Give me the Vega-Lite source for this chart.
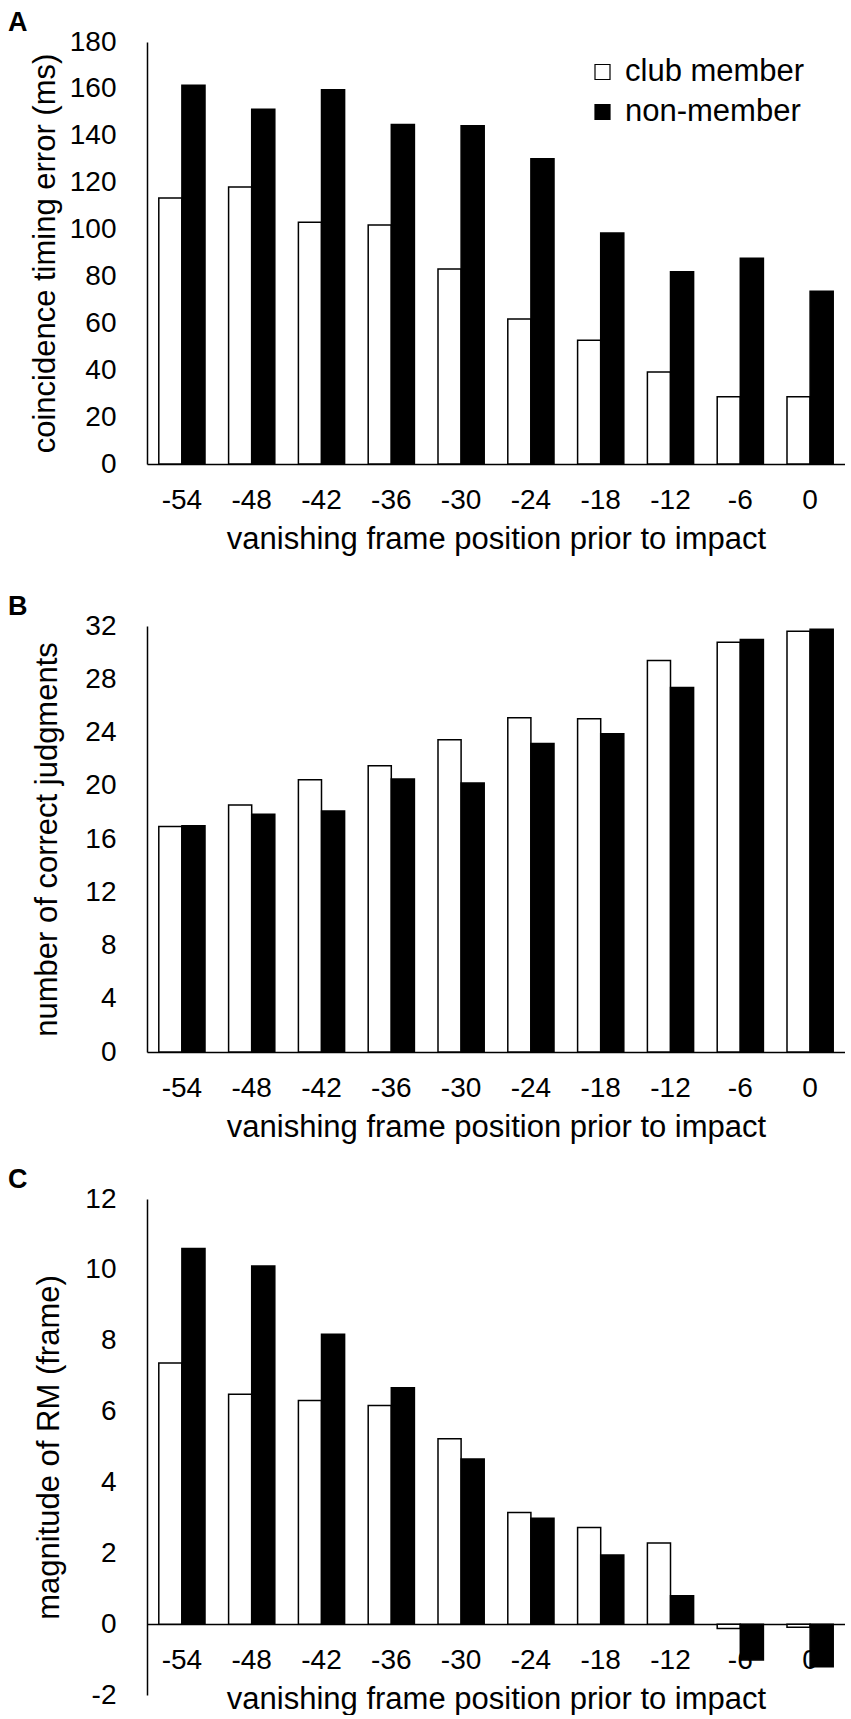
{
  "$schema": "https://vega.github.io/schema/vega-lite/v6.json",
  "background": "white",
  "padding": {"left": 8, "top": 9, "right": 0, "bottom": 0},
  "config": {
    "font": "Liberation Sans",
    "view": {"stroke": null},
    "axis": {
      "domainColor": "#000",
      "domainWidth": 1.5,
      "grid": false,
      "ticks": false,
      "labelColor": "#000",
      "titleColor": "#000",
      "labelFontSize": 28,
      "titleFontSize": 31,
      "titleFontWeight": "normal"
    },
    "legend": {
      "orient": "none",
      "title": null,
      "symbolType": "square",
      "symbolSize": 225,
      "symbolStrokeColor": "#000",
      "symbolStrokeWidth": 1.2,
      "symbolOpacity": 1,
      "labelFontSize": 31,
      "labelColor": "#000",
      "labelLimit": 400,
      "labelOffset": 7,
      "rowPadding": 8,
      "padding": 0
    },
    "title": {"fontSize": 27, "fontWeight": "bold", "color": "#000", "anchor": "start", "frame": "group"}
  },
  "datasets": {
    "a": [
      {"frame": -54, "group": "club member", "value": 113.5},
      {"frame": -48, "group": "club member", "value": 118.1},
      {"frame": -42, "group": "club member", "value": 103.1},
      {"frame": -36, "group": "club member", "value": 101.9},
      {"frame": -30, "group": "club member", "value": 83.2},
      {"frame": -24, "group": "club member", "value": 61.9},
      {"frame": -18, "group": "club member", "value": 52.8},
      {"frame": -12, "group": "club member", "value": 39.2},
      {"frame": -6, "group": "club member", "value": 28.7},
      {"frame": 0, "group": "club member", "value": 28.7},
      {"frame": -54, "group": "non-member", "value": 161.5},
      {"frame": -48, "group": "non-member", "value": 151.3},
      {"frame": -42, "group": "non-member", "value": 159.6},
      {"frame": -36, "group": "non-member", "value": 144.8},
      {"frame": -30, "group": "non-member", "value": 144.3},
      {"frame": -24, "group": "non-member", "value": 130.2},
      {"frame": -18, "group": "non-member", "value": 98.5},
      {"frame": -12, "group": "non-member", "value": 82.0},
      {"frame": -6, "group": "non-member", "value": 87.8},
      {"frame": 0, "group": "non-member", "value": 73.7}
    ],
    "b": [
      {"frame": -54, "group": "club member", "value": 16.93},
      {"frame": -48, "group": "club member", "value": 18.55},
      {"frame": -42, "group": "club member", "value": 20.46},
      {"frame": -36, "group": "club member", "value": 21.51},
      {"frame": -30, "group": "club member", "value": 23.45},
      {"frame": -24, "group": "club member", "value": 25.11},
      {"frame": -18, "group": "club member", "value": 25.03},
      {"frame": -12, "group": "club member", "value": 29.41},
      {"frame": -6, "group": "club member", "value": 30.78},
      {"frame": 0, "group": "club member", "value": 31.6},
      {"frame": -54, "group": "non-member", "value": 17.0},
      {"frame": -48, "group": "non-member", "value": 17.86},
      {"frame": -42, "group": "non-member", "value": 18.1},
      {"frame": -36, "group": "non-member", "value": 20.5},
      {"frame": -30, "group": "non-member", "value": 20.21},
      {"frame": -24, "group": "non-member", "value": 23.17},
      {"frame": -18, "group": "non-member", "value": 23.9},
      {"frame": -12, "group": "non-member", "value": 27.38},
      {"frame": -6, "group": "non-member", "value": 30.99},
      {"frame": 0, "group": "non-member", "value": 31.76}
    ],
    "c": [
      {"frame": -54, "group": "club member", "value": 7.37},
      {"frame": -48, "group": "club member", "value": 6.49},
      {"frame": -42, "group": "club member", "value": 6.31},
      {"frame": -36, "group": "club member", "value": 6.17},
      {"frame": -30, "group": "club member", "value": 5.23},
      {"frame": -24, "group": "club member", "value": 3.15},
      {"frame": -18, "group": "club member", "value": 2.73},
      {"frame": -12, "group": "club member", "value": 2.29},
      {"frame": -6, "group": "club member", "value": -0.12},
      {"frame": 0, "group": "club member", "value": -0.09},
      {"frame": -54, "group": "non-member", "value": 10.6},
      {"frame": -48, "group": "non-member", "value": 10.11},
      {"frame": -42, "group": "non-member", "value": 8.18},
      {"frame": -36, "group": "non-member", "value": 6.67},
      {"frame": -30, "group": "non-member", "value": 4.66},
      {"frame": -24, "group": "non-member", "value": 2.99},
      {"frame": -18, "group": "non-member", "value": 1.95},
      {"frame": -12, "group": "non-member", "value": 0.8},
      {"frame": -6, "group": "non-member", "value": -1.01},
      {"frame": 0, "group": "non-member", "value": -1.2}
    ]
  },
  "bounds": "flush",
  "spacing": 162,
  "vconcat": [
    {
      "width": 698,
      "height": 422,
      "title": {"text": "A", "dx": -139, "offset": -9},
      "data": {"name": "a"},
      "mark": {"type": "bar", "stroke": "#000", "strokeWidth": 1.5},
      "encoding": {
        "x": {
          "field": "frame", "type": "ordinal",
          "scale": {"paddingInner": 0.338, "paddingOuter": 0.169},
          "axis": {"title": "vanishing frame position prior to impact", "labelAngle": 0, "labelPadding": 22, "titlePadding": 10}
        },
        "xOffset": {"field": "group", "type": "nominal", "sort": ["club member", "non-member"], "scale": {"paddingInner": 0, "paddingOuter": 0}},
        "y": {
          "field": "value", "type": "quantitative", "stack": null,
          "scale": {"domain": [0, 180], "nice": false},
          "axis": {"title": "coincidence timing error (ms)", "values": [0, 20, 40, 60, 80, 100, 120, 140, 160, 180], "labelPadding": 31, "titlePadding": 8}
        },
        "fill": {
          "field": "group", "type": "nominal",
          "scale": {"domain": ["club member", "non-member"], "range": ["#ffffff", "#000000"]},
          "legend": {"legendX": 440, "legendY": 14.5}
        }
      }
    },
    {
      "bounds": "flush",
      "spacing": 147,
      "vconcat": [
        {
          "width": 698,
          "height": 426,
          "title": {"text": "B", "dx": -139, "offset": -9},
          "data": {"name": "b"},
          "mark": {"type": "bar", "stroke": "#000", "strokeWidth": 1.5},
          "encoding": {
            "x": {
              "field": "frame", "type": "ordinal",
              "scale": {"paddingInner": 0.338, "paddingOuter": 0.169},
              "axis": {"title": "vanishing frame position prior to impact", "labelAngle": 0, "labelPadding": 22, "titlePadding": 10}
            },
            "xOffset": {"field": "group", "type": "nominal", "sort": ["club member", "non-member"], "scale": {"paddingInner": 0, "paddingOuter": 0}},
            "y": {
              "field": "value", "type": "quantitative", "stack": null,
              "scale": {"domain": [0, 32], "nice": false},
              "axis": {"title": "number of correct judgments", "values": [0, 4, 8, 12, 16, 20, 24, 28, 32], "labelPadding": 31, "titlePadding": 21}
            },
            "fill": {
              "field": "group", "type": "nominal",
              "scale": {"domain": ["club member", "non-member"], "range": ["#ffffff", "#000000"]},
              "legend": {"legendX": 72, "legendY": 10.5}
            }
          }
        },
        {
          "width": 698,
          "height": 496,
          "title": {"text": "C", "dx": -139, "offset": -9},
          "data": {"name": "c"},
          "mark": {"type": "bar", "stroke": "#000", "strokeWidth": 1.5},
          "encoding": {
            "x": {
              "field": "frame", "type": "ordinal",
              "scale": {"paddingInner": 0.338, "paddingOuter": 0.169},
              "axis": {"title": "vanishing frame position prior to impact", "labelAngle": 0, "labelPadding": 22, "titlePadding": 10, "offset": -70.9}
            },
            "xOffset": {"field": "group", "type": "nominal", "sort": ["club member", "non-member"], "scale": {"paddingInner": 0, "paddingOuter": 0}},
            "y": {
              "field": "value", "type": "quantitative", "stack": null,
              "scale": {"domain": [-2, 12], "nice": false},
              "axis": {"title": "magnitude of RM (frame)", "values": [-2, 0, 2, 4, 6, 8, 10, 12], "labelExpr": "'' + datum.value", "labelPadding": 31, "titlePadding": 19}
            },
            "fill": {
              "field": "group", "type": "nominal",
              "scale": {"domain": ["club member", "non-member"], "range": ["#ffffff", "#000000"]},
              "legend": {"legendX": 391, "legendY": 115.5}
            }
          }
        }
      ]
    }
  ]
}
